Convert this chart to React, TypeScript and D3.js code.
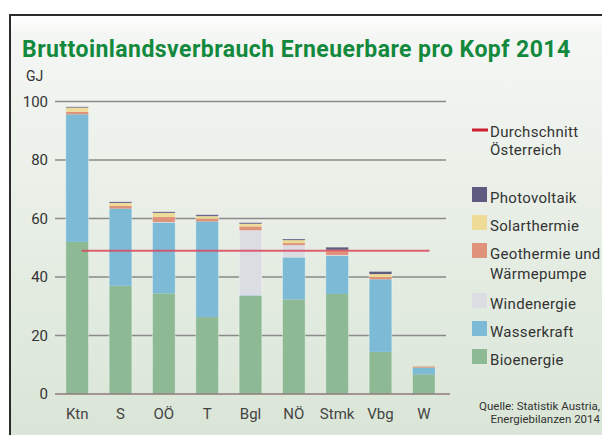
import * as d3 from 'd3'

const categories = ['Ktn', 'S', 'OÖ', 'T', 'Bgl', 'NÖ', 'Stmk', 'Vbg', 'W']
const bioenergie = [52, 37, 34.4, 26.3, 33.5, 32.3, 34.2, 14.4, 6.7]
const wasserkraft = [43.6, 26.4, 24.2, 32.7, 0.2, 14.4, 13.0, 24.8, 2.3]
const windenergie = [0, 0, 0.2, 0, 22.3, 4.2, 0.3, 0, 0]
const geothermie = [0.9, 0.9, 1.7, 0.9, 1.3, 0.7, 1.1, 0.8, 0.3]
const solarthermie = [1.4, 1.0, 1.4, 0.9, 0.9, 1.0, 0.7, 1.0, 0.2]
const photovoltaik = [0.3, 0.4, 0.4, 0.5, 0.4, 0.4, 0.9, 0.9, 0.1]
const durchschnitt = 49
const yTicks = [0, 20, 40, 60, 80, 100]

const seriesKeys = ['bio', 'wasser', 'wind', 'geo', 'solar', 'photo']
const seriesColors = ['#8dba94', '#7cbad6', '#dcdde3', '#df937a', '#efdb98', '#5f5b80']
const legendItems = [
  { key: 'photo', lines: ['Photovoltaik'] },
  { key: 'solar', lines: ['Solarthermie'] },
  { key: 'geo', lines: ['Geothermie und', 'Wärmepumpe'] },
  { key: 'wind', lines: ['Windenergie'] },
  { key: 'wasser', lines: ['Wasserkraft'] },
  { key: 'bio', lines: ['Bioenergie'] }
]

const font = 'Roboto, sans-serif'

const App = () => {
  const table = categories.map((c, i) => ({
    cat: c,
    bio: bioenergie[i],
    wasser: wasserkraft[i],
    wind: windenergie[i],
    geo: geothermie[i],
    solar: solarthermie[i],
    photo: photovoltaik[i]
  }))

  const x = d3.scaleBand().domain(categories).range([55, 446]).paddingInner(0.476).paddingOuter(0.25)
  const y = d3.scaleLinear().domain([0, 100]).range([394, 101.5])
  const color = d3.scaleOrdinal().domain(seriesKeys).range(seriesColors)
  const stacked = d3.stack().keys(seriesKeys)(table)

  // legend rows: swatch + one or two text lines
  let ly = 203
  const legendRows = legendItems.map((it) => {
    const row = { ...it, y: ly }
    ly += 28 + (it.lines.length - 1) * 22
    return row
  })

  return (
    <svg width={602} height={435} style={{ position: 'absolute', left: 0, top: 0 }}>
      <defs>
        <linearGradient id='bg' x1='0' y1='0' x2='0' y2='1'>
          <stop offset='0' stopColor='#ffffff' />
          <stop offset='0.05' stopColor='#f4f6f3' />
          <stop offset='1' stopColor='#d9e5d6' />
        </linearGradient>
      </defs>
      <rect x={0} y={0} width={602} height={435} fill='#ffffff' />
      <rect x={10} y={15} width={600} height={430} fill='url(#bg)' stroke='#2b2b2b' strokeWidth={2} />

      <text x={22} y={57} fill='#12893d' fontFamily={font} fontWeight='bold' fontSize={23} letterSpacing={0.45}>
        Bruttoinlandsverbrauch Erneuerbare pro Kopf 2014
      </text>
      <text x={26} y={81} fill='#333' fontFamily={font} fontSize={14}>GJ</text>

      {yTicks.map((t) => (
        <g key={t}>
          {t > 0 && <line x1={55} x2={446} y1={y(t)} y2={y(t)} stroke='#8a8a8a' strokeWidth={1.3} />}
          <text x={48} y={y(t) + 5} textAnchor='end' fill='#333' fontFamily={font} fontSize={15}>{t}</text>
        </g>
      ))}

      {stacked.map((s) => (
        <g key={s.key} fill={color(s.key)}>
          {s.map((d) => (
            <rect
              key={d.data.cat}
              x={x(d.data.cat)}
              y={y(d[1])}
              width={x.bandwidth()}
              height={Math.max(0, y(d[0]) - y(d[1]))}
            />
          ))}
        </g>
      ))}
      {table.map((d) => (
        <rect
          key={d.cat}
          x={x(d.cat)}
          y={y(d3.sum(seriesKeys, (k) => d[k]))}
          width={x.bandwidth()}
          height={y(0) - y(d3.sum(seriesKeys, (k) => d[k]))}
          fill='none'
          stroke='#ffffff'
          strokeOpacity={0.35}
        />
      ))}

      <line x1={55} x2={450} y1={y(0)} y2={y(0)} stroke='#8c7a78' strokeWidth={1.5} />
      <line
        x1={x('Ktn') + x.bandwidth() * 0.7}
        x2={x('W') + x.bandwidth() * 0.75}
        y1={y(durchschnitt)}
        y2={y(durchschnitt)}
        stroke='#d8475d'
        strokeWidth={2}
        strokeOpacity={0.85}
      />

      {categories.map((c) => (
        <text key={c} x={x(c) + x.bandwidth() / 2} y={419} textAnchor='middle' fill='#444' fontFamily={font} fontSize={15}>
          {c}
        </text>
      ))}

      <line x1={472} x2={488} y1={130} y2={130} stroke='#d11f2f' strokeWidth={3} />
      <text x={490} y={137} fill='#333' fontFamily={font} fontSize={15} letterSpacing={0.3}>Durchschnitt</text>
      <text x={490} y={155} fill='#333' fontFamily={font} fontSize={15} letterSpacing={0.3}>Österreich</text>

      {legendRows.map((r) => (
        <g key={r.key}>
          <rect x={472} y={r.y - 16} width={15} height={15} fill={color(r.key)} />
          {r.lines.map((l, i) => (
            <text key={l} x={490} y={r.y + i * 20} fill='#333' fontFamily={font} fontSize={15} letterSpacing={0.3}>
              {l}
            </text>
          ))}
        </g>
      ))}

      <text x={600} y={410} textAnchor='end' fill='#333' fontFamily={font} fontSize={11.5}>Quelle: Statistik Austria,</text>
      <text x={600} y={423} textAnchor='end' fill='#333' fontFamily={font} fontSize={11.5}>Energiebilanzen 2014</text>
    </svg>
  )
}

export default App
